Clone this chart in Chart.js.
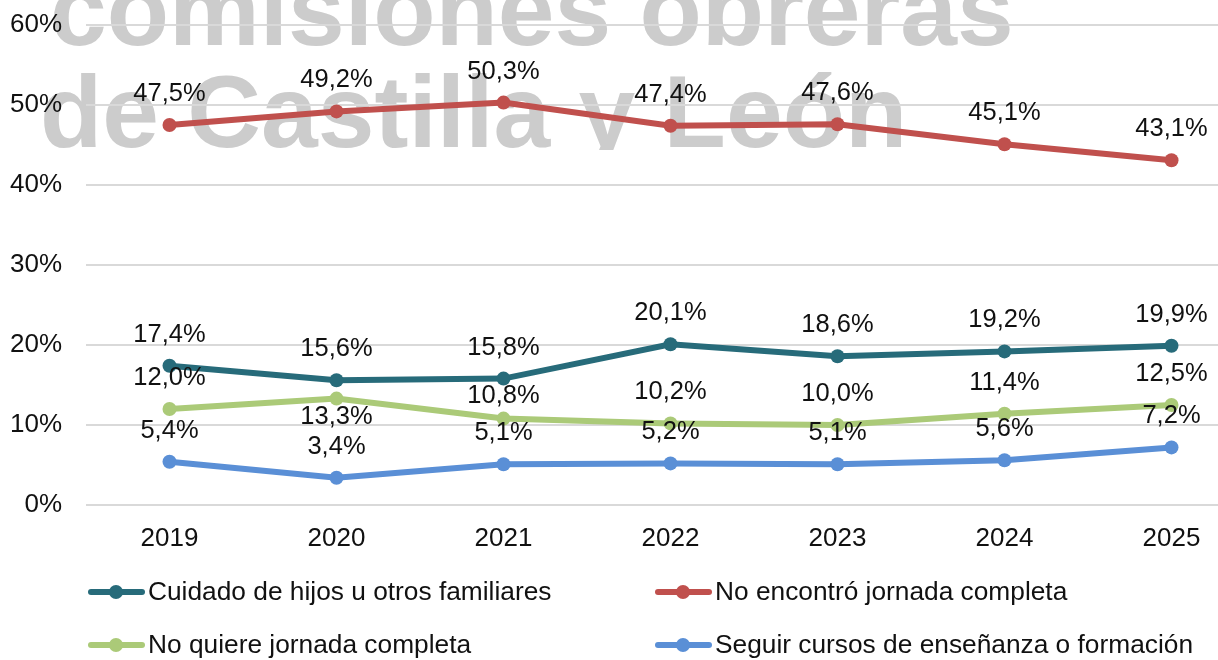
<!DOCTYPE html>
<html>
<head>
<meta charset="utf-8">
<script src="https://cdn.jsdelivr.net/npm/chart.js@4.4.1/dist/chart.umd.min.js"></script>
<style>
  html, body { margin: 0; padding: 0; background: #ffffff; overflow: hidden; }
  #wrap { position: relative; width: 1262px; height: 660px; }
</style>
</head>
<body>
<div id="wrap"><canvas id="c"></canvas></div>
<script>
// ---- data ----
const years = ['2019', '2020', '2021', '2022', '2023', '2024', '2025'];
const seriesNames = [
  'Cuidado de hijos u otros familiares',
  'No encontró jornada completa',
  'No quiere jornada completa',
  'Seguir cursos de enseñanza o formación'
];
const cuidado = [17.4, 15.6, 15.8, 20.1, 18.6, 19.2, 19.9];
const noEncontro = [47.5, 49.2, 50.3, 47.4, 47.6, 45.1, 43.1];
const noQuiere = [12.0, 13.3, 10.8, 10.2, 10.0, 11.4, 12.5];
const seguir = [5.4, 3.4, 5.1, 5.2, 5.1, 5.6, 7.2];
const yTicks = [0, 10, 20, 30, 40, 50, 60];
const watermarkLines = ['comisiones obreras', 'de Castilla y León'];

// ---- styles ----
const colors = ['#276B7A', '#C0504D', '#ABCA78', '#5A8FD6'];
// label baseline offset from point (px), per series
const labelDy = [
  [-24, -24, -24, -24, -24, -24, -24],
  [-24, -24, -24, -24, -24, -24, -24],
  [-24, 25, -16, -24, -24, -24, -24],
  [-24, -24, -24, -24, -24, -24, -24]
];
const FONT = '"Liberation Sans", Arial, sans-serif';
const fmt = v => v.toFixed(1).replace('.', ',') + '%';

const watermarkPlugin = {
  id: 'watermark',
  beforeDraw(chart) {
    const ctx = chart.ctx;
    ctx.save();
    ctx.beginPath();
    ctx.rect(0, 0, chart.width, 150);
    ctx.clip();
    ctx.fillStyle = '#cccccc';
    ctx.font = 'bold 102px ' + FONT;
    ctx.textAlign = 'left';
    ctx.textBaseline = 'alphabetic';
    ctx.fillText(watermarkLines[0], 50, 45);
    ctx.fillText(watermarkLines[1], 40, 147);
    ctx.restore();
  }
};

const labelPlugin = {
  id: 'pointLabels',
  afterDatasetsDraw(chart) {
    const ctx = chart.ctx;
    ctx.save();
    ctx.fillStyle = '#111111';
    ctx.font = '25.5px ' + FONT;
    ctx.textAlign = 'center';
    ctx.textBaseline = 'alphabetic';
    chart.data.datasets.forEach((ds, di) => {
      const meta = chart.getDatasetMeta(di);
      meta.data.forEach((pt, i) => {
        ctx.fillText(fmt(ds.data[i]), pt.x, pt.y + labelDy[di][i]);
      });
    });
    ctx.restore();
  }
};

const legendPlugin = {
  id: 'customLegend',
  afterDraw(chart) {
    const ctx = chart.ctx;
    const cols = [88, 655];
    const rows = [592, 645];
    ctx.save();
    chart.data.datasets.forEach((ds, i) => {
      const x = cols[i % 2];
      const y = rows[Math.floor(i / 2)];
      ctx.strokeStyle = ds.borderColor;
      ctx.lineWidth = 6;
      ctx.lineCap = 'round';
      ctx.beginPath();
      ctx.moveTo(x + 3, y);
      ctx.lineTo(x + 54, y);
      ctx.stroke();
      ctx.fillStyle = ds.borderColor;
      ctx.beginPath();
      ctx.arc(x + 28, y, 7, 0, Math.PI * 2);
      ctx.fill();
      ctx.fillStyle = '#111111';
      ctx.font = '26.3px ' + FONT;
      ctx.textAlign = 'left';
      ctx.textBaseline = 'middle';
      ctx.fillText(ds.label, x + 60, y + 1);
    });
    ctx.restore();
  }
};

const allSeries = [cuidado, noEncontro, noQuiere, seguir];

new Chart(document.getElementById('c'), {
  type: 'line',
  data: {
    labels: years,
    datasets: allSeries.map((arr, i) => ({
      label: seriesNames[i],
      data: arr,
      borderColor: colors[i],
      backgroundColor: colors[i],
      borderWidth: 6,
      pointRadius: 7,
      pointHoverRadius: 7,
      pointBorderWidth: 0,
      pointBackgroundColor: colors[i],
      tension: 0,
      fill: false
    }))
  },
  options: {
    responsive: true,
    maintainAspectRatio: false,
    animation: false,
    layout: { padding: { top: 25, right: 0, bottom: 100, left: 0 } },
    plugins: {
      legend: { display: false },
      tooltip: { enabled: false }
    },
    scales: {
      x: {
        type: 'category',
        offset: true,
        grid: { display: false, drawTicks: false },
        border: { display: false },
        ticks: {
          color: '#111111',
          font: { size: 26, family: FONT },
          padding: 18,
          maxRotation: 0,
          autoSkip: false
        },
        afterFit(scale) {
          scale.height = 55;
          scale.paddingLeft = 0; scale.paddingRight = 0;
        }
      },
      y: {
        min: 0,
        max: 60,
        afterBuildTicks(scale) { scale.ticks = yTicks.map(v => ({ value: v })); },
        grid: { color: '#d9d9d9', lineWidth: 2, drawTicks: false },
        border: { display: false },
        ticks: {
          color: '#111111',
          font: { size: 26, family: FONT },
          padding: 24,
          callback: v => v + '%'
        },
        afterFit(scale) {
          scale.width = 86;
          scale.paddingTop = 0; scale.paddingBottom = 0;
        }
      }
    }
  },
  plugins: [watermarkPlugin, labelPlugin, legendPlugin]
});
</script>
</body>
</html>
